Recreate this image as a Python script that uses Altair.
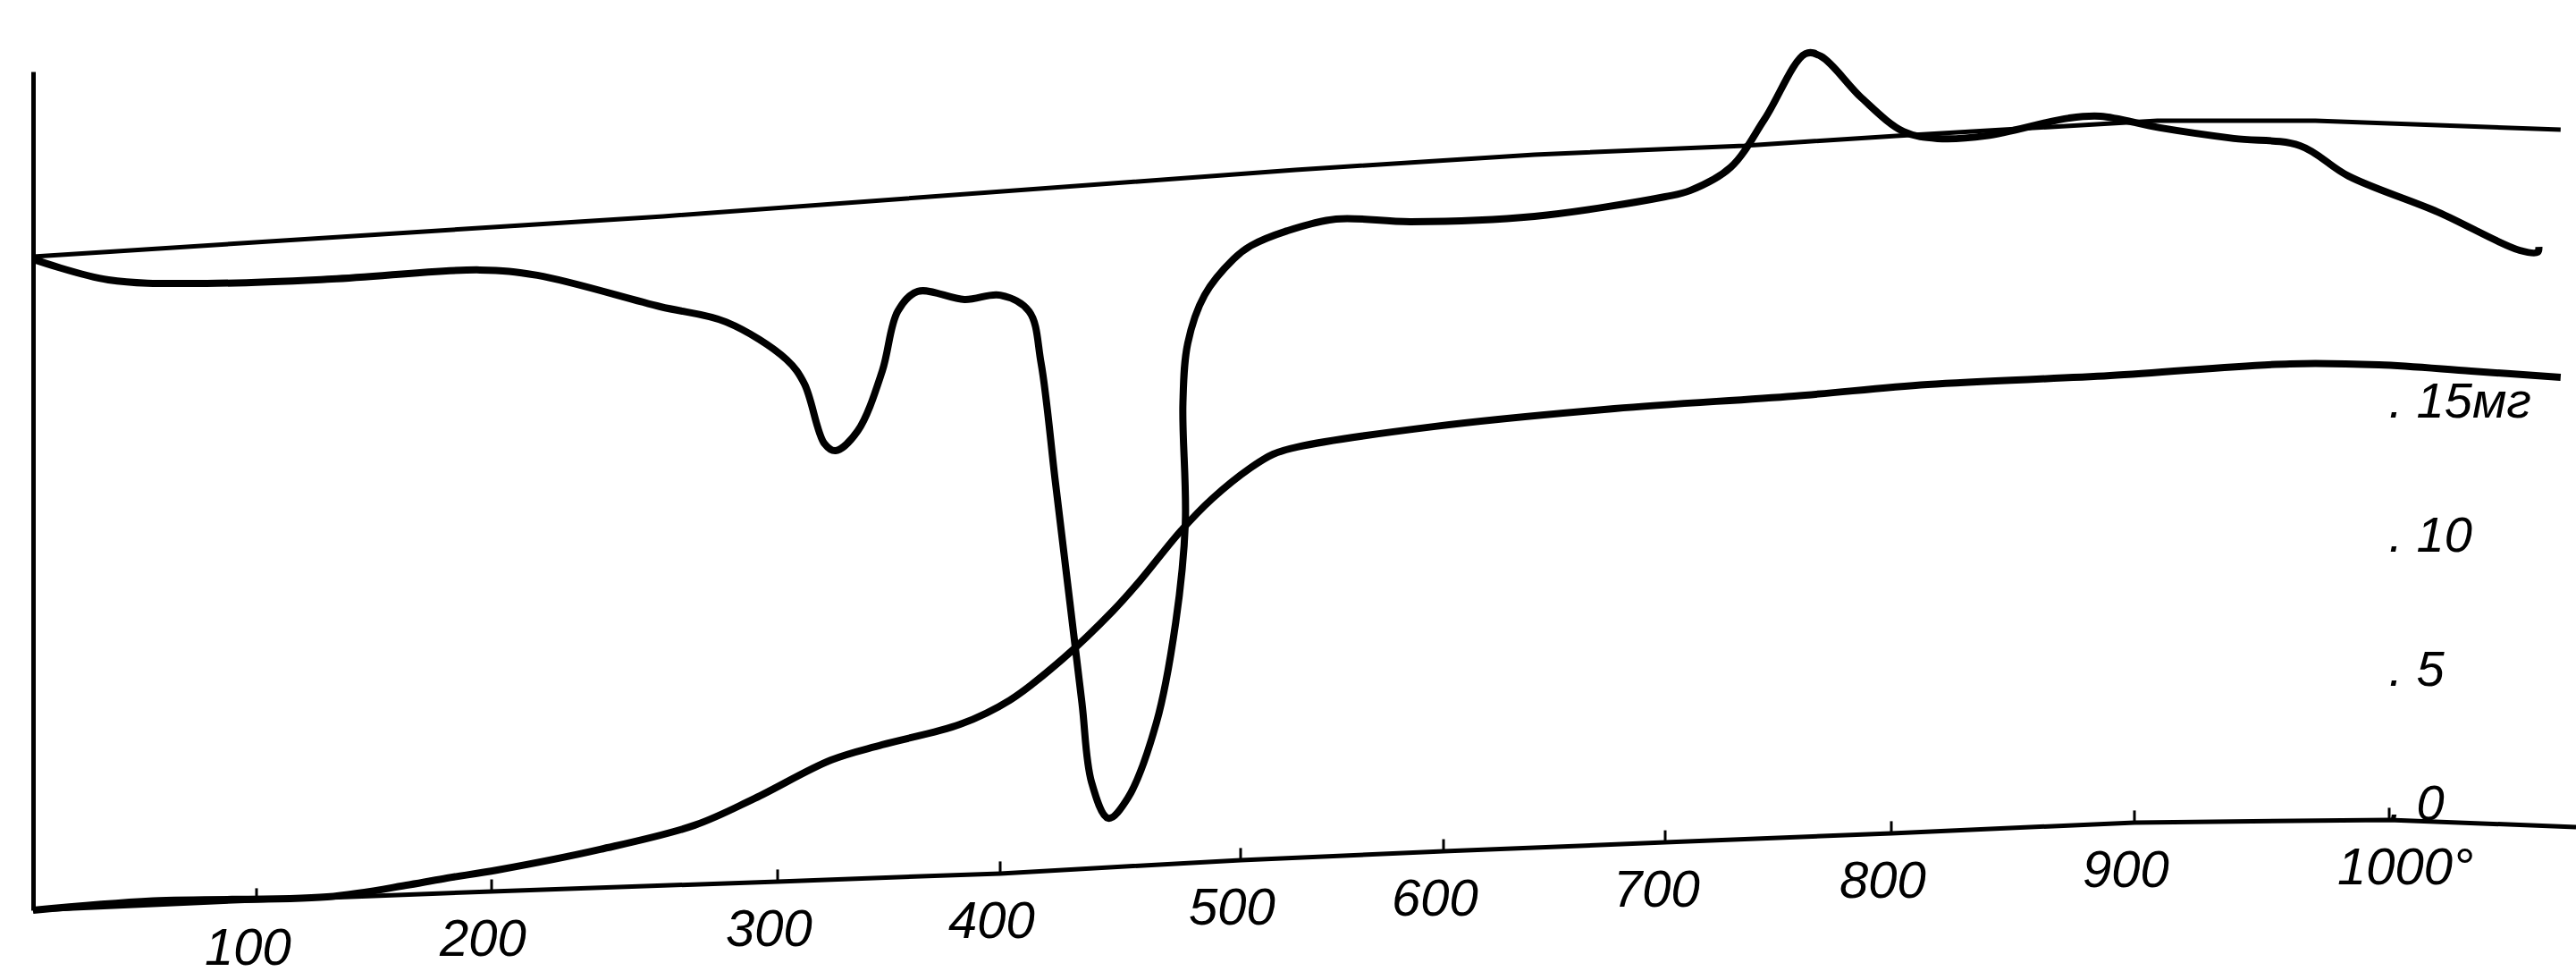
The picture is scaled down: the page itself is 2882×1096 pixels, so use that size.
import altair as alt
import pandas as pd

# ---- data (temperature in °C, vertical deflection in "mg" units of the right scale)
dta_t = [20, 47, 82, 132, 195, 216, 259, 282, 304, 312, 321, 326, 336, 347, 354, 363, 384, 400, 412, 417,
         423, 429, 434, 438, 445, 453, 465, 473, 477, 476, 478, 485, 497, 505, 523, 547, 584, 641, 700, 711,
         729, 744, 762, 769, 787, 805, 819, 839, 873, 886, 910, 939, 965, 984, 1019, 1051, 1058, 1058.5]
dta_y = [20.87, 20.1, 19.97, 20.13, 20.47, 20.27, 19.1, 18.53, 17.13, 16.23, 14.0, 13.73, 14.47, 16.7, 18.93,
         19.67, 19.37, 19.53, 18.93, 17.0, 12.53, 8.07, 4.33, 1.37, 0.03, 0.77, 3.6, 7.33, 11.03, 15.5,
         17.73, 19.53, 20.87, 21.37, 21.93, 22.37, 22.27, 22.47, 23.2, 23.43, 24.3, 26.1, 28.53, 28.43,
         26.87, 25.63, 25.37, 25.47, 26.13, 26.2, 25.77, 25.37, 25.1, 23.97, 22.63, 21.2, 21.13, 21.33]

tg_t = [20, 63, 130, 165, 181, 202, 238, 271, 292, 324, 347, 382, 404, 426, 447, 458, 475, 488, 505, 516, 528,
        595, 677, 757, 815, 890, 961, 996, 1032, 1067]
tg_y = [-3.4, -3.05, -2.9, -2.45, -2.2, -1.9, -1.13, -0.23, 0.77, 2.2, 2.77, 3.53, 4.43, 5.97, 7.77, 8.87,
        10.73, 11.93, 13.1, 13.6, 13.87, 14.63, 15.3, 15.77, 16.2, 16.53, 16.97, 16.93, 16.7, 16.47]

base_t = [20, 100, 200, 300, 400, 500, 600, 700, 800, 900, 1000, 1073]
base_y = [-3.4, -3.03, -2.7, -2.33, -2.03, -1.53, -1.2, -0.87, -0.53, -0.13, -0.03, -0.3]

ref_t = [20, 260, 527, 641, 735, 802, 909, 971, 1067]
ref_y = [20.97, 22.47, 24.2, 24.77, 25.1, 25.47, 26.03, 26.03, 25.7]

tick_temps = [100, 200, 300, 400, 500, 600, 700, 800, 900, 1000]
tick_labels = ["100", "200", "300", "400", "500", "600", "700", "800", "900", "1000°"]

mass_ticks = [0, 5, 10, 15]
mass_unit = "мг"

# ---- scales (hand-drawn, non-uniform temperature scale)
x_domain = [20, 100, 200, 300, 400, 500, 600, 700, 800, 900, 1000, 1073]
x_range = [0, 250, 513, 833, 1082, 1351, 1578, 1826, 2079, 2351, 2636, 2845]
y_domain = [-3.4, 27.8667]

FONT = "'Liberation Sans Narrow', 'Liberation Sans', sans-serif"

xs = alt.Scale(domain=x_domain, range=x_range, nice=False, zero=False)
ys = alt.Scale(domain=y_domain, nice=False, zero=False)

dta = pd.DataFrame({"t": dta_t, "y": dta_y, "i": list(range(len(dta_t)))})
tg = pd.DataFrame({"t": tg_t, "y": tg_y, "i": list(range(len(tg_t)))})
base = pd.DataFrame({"t": base_t, "y": base_y})
ref = pd.DataFrame({"t": ref_t, "y": ref_y})
bmap = dict(zip(base_t, base_y))
ticks = pd.DataFrame({"t": tick_temps, "y": [bmap[t] for t in tick_temps], "label": tick_labels})

X = alt.X("t:Q", scale=xs, axis=None)

base_layer = alt.Chart(base).mark_line(color="black", strokeWidth=5).encode(
    x=X,
    y=alt.Y("y:Q", scale=ys, axis=alt.Axis(orient="left", domain=True, domainColor="black", domainWidth=5,
                                           ticks=False, labels=False, grid=False, title=None)),
)

ref_layer = alt.Chart(ref).mark_line(color="black", strokeWidth=5).encode(
    x=X, y=alt.Y("y:Q", scale=ys, axis=None)
)

dta_layer = alt.Chart(dta).mark_line(color="black", strokeWidth=8, interpolate="catmull-rom").encode(
    x=X, y=alt.Y("y:Q", scale=ys, axis=None), order="i:Q"
)

label_expr = ("datum.value == %d ? '. ' + datum.label + '%s' : '. ' + datum.label"
              % (mass_ticks[-1], mass_unit))

tg_layer = alt.Chart(tg).mark_line(color="black", strokeWidth=8, interpolate="catmull-rom").encode(
    x=X,
    y=alt.Y("y:Q", scale=ys, axis=alt.Axis(orient="right", offset=-214, values=mass_ticks, labelExpr=label_expr,
                                           domain=False, ticks=False, grid=False, title=None,
                                           labelFont=FONT, labelFontSize=56, labelFontStyle="italic",
                                           labelAlign="left", labelBaseline="alphabetic", labelPadding=4,
                                           labelColor="black", labelOverlap=False)),
    order="i:Q",
)

tick_layer = alt.Chart(ticks).transform_calculate(y2="datum.y + 0.45").mark_rule(
    color="black", strokeWidth=3
).encode(x=X, y=alt.Y("y:Q", scale=ys, axis=None), y2="y2:Q")

label_layer = alt.Chart(ticks).mark_text(
    font=FONT, fontSize=58, fontStyle="italic", color="black", align="left", baseline="middle", dx=-58, dy=55
).encode(x=X, y=alt.Y("y:Q", scale=ys, axis=None), text="label:N")

chart = alt.layer(base_layer, ref_layer, dta_layer, tg_layer, tick_layer, label_layer).resolve_scale(
    y="shared", x="shared"
).resolve_axis(y="independent").properties(
    width=2845, height=938, autosize="none",
    padding={"left": 37, "top": 80, "right": 0, "bottom": 78},
    background="white",
).configure_view(stroke=None)

chart.save("out.html", embed_options={"renderer": "svg", "actions": False})
